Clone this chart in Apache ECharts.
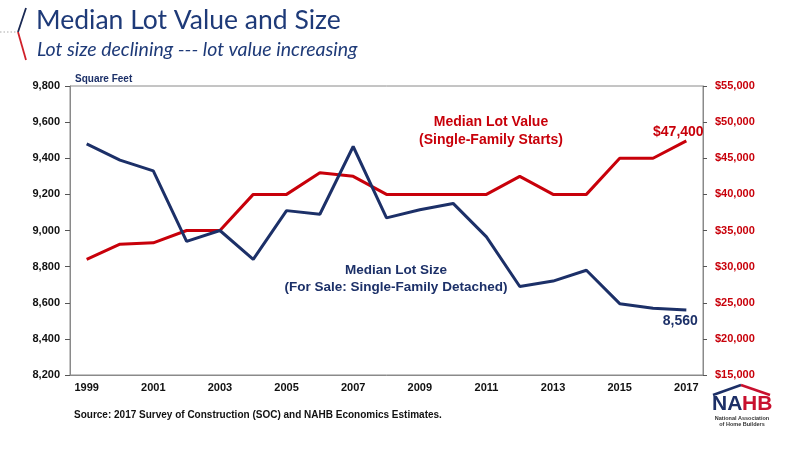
<!DOCTYPE html>
<html><head><meta charset="utf-8">
<script src="https://cdn.jsdelivr.net/npm/echarts@6/dist/echarts.min.js"></script>
<style>html,body{margin:0;padding:0;background:#fff}#c{width:800px;height:450px}</style>
</head><body><div id="c"></div>
<script>
const years = ['1999','2000','2001','2002','2003','2004','2005','2006','2007','2008','2009','2010','2011','2012','2013','2014','2015','2016','2017'];
const lotSize = [9480,9390,9330,8940,9000,8840,9110,9090,9465,9070,9115,9150,8965,8690,8720,8780,8595,8570,8560];
const lotValue = [31000,33100,33300,35000,35000,40000,40000,43000,42500,40000,40000,40000,40000,42500,40000,40000,45000,45000,47400];
const leftTicks = {min:8200, max:9800, interval:200};
const rightTicks = {min:15000, max:55000, interval:5000};

const NAVY = '#1c3068';
const RED = '#c8000a';
const F = 'Liberation Sans, Arial, sans-serif';
const fmt = v => v.toString().replace(/\B(?=(\d{3})+(?!\d))/g, ',');

const last = years.length - 1;
const sizeData = lotSize.map((v,i) => i === last ? {value:v, label:{show:true, position:'bottom', offset:[-6,-1], formatter:p=>fmt(p.value), color:NAVY, fontSize:14, fontWeight:'bold', fontFamily:F}} : v);
const valueData = lotValue.map((v,i) => i === last ? {value:v, label:{show:true, position:'top', offset:[-8,3], formatter:p=>'$'+fmt(p.value), color:RED, fontSize:14, fontWeight:'bold', fontFamily:F}} : v);

const chart = echarts.init(document.getElementById('c'), null, {renderer:'canvas'});
chart.setOption({
  animation:false,
  backgroundColor:'#fff',
  grid:{left:70, right:97, top:86, bottom:75, show:true, borderColor:'#8a8a8a', borderWidth:1},
  xAxis:{type:'category', data:years, boundaryGap:true,
    axisLine:{lineStyle:{color:'#8a8a8a', width:1}},
    axisTick:{interval:0, length:5, lineStyle:{color:'#555'}},
    axisLabel:{interval:1, color:'#111', fontSize:11, fontWeight:'bold', fontFamily:F, margin:7}},
  yAxis:[
    {type:'value', min:leftTicks.min, max:leftTicks.max, interval:leftTicks.interval, position:'left',
      axisLine:{show:true, lineStyle:{color:'#8a8a8a'}}, axisTick:{show:true, length:5, lineStyle:{color:'#555'}},
      splitLine:{show:false},
      axisLabel:{formatter:v=>fmt(v), color:'#111', fontSize:11, fontWeight:'bold', fontFamily:F, margin:10}},
    {type:'value', min:rightTicks.min, max:rightTicks.max, interval:rightTicks.interval, position:'right',
      axisLine:{show:true, lineStyle:{color:'#8a8a8a'}}, axisTick:{show:true, length:4, lineStyle:{color:'#555'}},
      splitLine:{show:false},
      axisLabel:{formatter:v=>'$'+fmt(v), color:RED, fontSize:11, fontWeight:'bold', fontFamily:F, margin:12}}
  ],
  series:[
    {name:'Median Lot Size', type:'line', yAxisIndex:0, data:sizeData, showSymbol:true, symbol:'circle', symbolSize:0.01,
      lineStyle:{color:NAVY, width:3}, itemStyle:{color:NAVY}, z:3},
    {name:'Median Lot Value', type:'line', yAxisIndex:1, data:valueData, showSymbol:true, symbol:'circle', symbolSize:0.01,
      lineStyle:{color:RED, width:3}, itemStyle:{color:RED}, z:2}
  ],
  graphic:[
    {type:'line', shape:{x1:0,y1:32,x2:18,y2:32}, style:{stroke:'#aaa', lineWidth:1, lineDash:[1.5,2]}},
    {type:'line', shape:{x1:26,y1:8,x2:18,y2:32}, style:{stroke:'#1b2a55', lineWidth:1.8}},
    {type:'line', shape:{x1:18,y1:32,x2:26,y2:60}, style:{stroke:'#d0202a', lineWidth:1.8}},
    {type:'text', left:36, top:7, style:{text:'Median Lot Value and Size', fill:'#1e3a78', font:'26.5px Lato, "Open Sans", sans-serif'}},
    {type:'text', left:37, top:40, style:{text:'Lot size declining --- lot value increasing', fill:'#1e3a78', font:'italic 19.5px Lato, "Open Sans", sans-serif'}},
    {type:'text', left:75, top:74, style:{text:'Square Feet', fill:'#1c3068', font:'bold 10px '+F}},
    {type:'text', x:491, y:131, style:{text:'Median Lot Value\n(Single-Family Starts)', fill:RED, font:'bold 14px '+F, align:'center', verticalAlign:'middle', lineHeight:18}},
    {type:'text', x:396, y:279, style:{text:'Median Lot Size\n(For Sale: Single-Family Detached)', fill:NAVY, font:'bold 13.5px '+F, align:'center', verticalAlign:'middle', lineHeight:17}},
    {type:'text', left:74, top:410, style:{text:'Source: 2017 Survey of Construction (SOC) and NAHB Economics Estimates.', fill:'#111', font:'bold 10px '+F}},
    {type:'polyline', shape:{points:[[713,395],[741,385]]}, style:{stroke:'#1c2f66', lineWidth:2.5}},
    {type:'polyline', shape:{points:[[741,385],[770,395]]}, style:{stroke:'#c8102e', lineWidth:2.5}},
    {type:'text', left:712, top:394, style:{text:'NA', fill:'#1c2f66', font:'bold 21px '+F}},
    {type:'text', left:742, top:394, style:{text:'HB', fill:'#c8102e', font:'bold 21px '+F}},
    {type:'text', x:742, y:415, style:{text:'National Association\nof Home Builders', fill:'#333', font:'bold 5.5px '+F, align:'center', verticalAlign:'top', lineHeight:6.5}}
  ]
});
</script></body></html>
